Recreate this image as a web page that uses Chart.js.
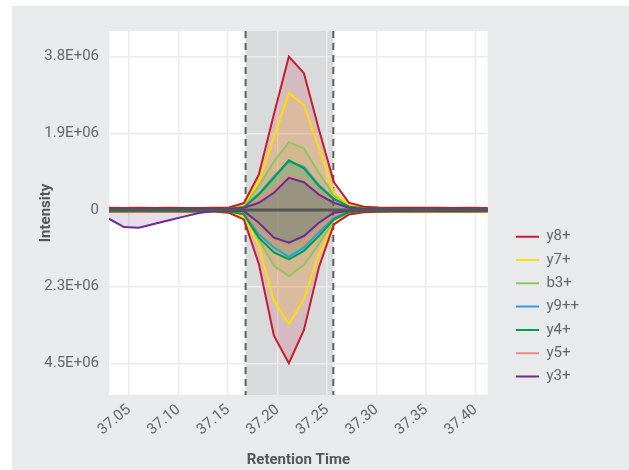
<!DOCTYPE html>
<html>
<head>
<meta charset="utf-8">
<script src="https://cdn.jsdelivr.net/npm/chart.js@4.4.1/dist/chart.umd.min.js"></script>
<style>
  body { margin: 0; background: #fff; }
  canvas { display: block; }
</style>
</head>
<body>
<canvas id="chart" width="629" height="470"></canvas>
<script>
// retention times (min)
var times = [37.0297, 37.0449, 37.0600, 37.0751, 37.0903, 37.1054, 37.1206, 37.1357, 37.1509,
  37.1660, 37.1811, 37.1963, 37.2114, 37.2266, 37.2417, 37.2568, 37.2720, 37.2871, 37.3023,
  37.3174, 37.3325, 37.3477, 37.3628, 37.3780, 37.3931, 37.4082, 37.4234];

var xTickValues = [37.05, 37.10, 37.15, 37.20, 37.25, 37.30, 37.35, 37.40];
var peakStart = 37.1677;
var peakEnd = 37.2563;

var seriesNames = ["y8+", "y7+", "b3+", "y9++", "y4+", "y5+", "y3+"];

// upper (light) traces
var y8Top = [52000, 51000, 53000, 50000, 52000, 51000, 50000, 54000, 62000, 170000, 880000, 2370000, 3800000, 3390000, 2000000, 690000, 180000, 80000, 60000, 55000, 53000, 52000, 54000, 51000, 52000, 50000, 51000];
var y7Top = [42000, 41000, 43000, 42000, 40000, 42000, 41000, 44000, 50000, 140000, 710000, 1800000, 2900000, 2600000, 1540000, 430000, 135000, 65000, 50000, 44000, 42000, 43000, 41000, 42000, 40000, 42000, 41000];
var b3Top = [34000, 35000, 33000, 35000, 34000, 36000, 34000, 35000, 40000, 95000, 590000, 1200000, 1680000, 1520000, 920000, 360000, 120000, 55000, 40000, 36000, 35000, 34000, 35000, 33000, 35000, 34000, 35000];
var y9Top = [25000, 26000, 24000, 25000, 25000, 24000, 26000, 25000, 28000, 70000, 400000, 830000, 1200000, 1070000, 620000, 280000, 90000, 40000, 28000, 26000, 25000, 24000, 25000, 26000, 25000, 24000, 25000];
var y4Top = [24000, 23000, 25000, 24000, 23000, 24000, 25000, 24000, 27000, 65000, 383000, 795000, 1230000, 1030000, 590000, 270000, 86000, 35000, 27000, 25000, 24000, 23000, 24000, 25000, 24000, 23000, 24000];
var y5Top = [30000, 29000, 31000, 30000, 29000, 30000, 31000, 30000, 33000, 55000, 260000, 506000, 835000, 711000, 420000, 175000, 75000, 35000, 31000, 30000, 29000, 30000, 31000, 30000, 29000, 30000, 30000];
var y3Top = [20000, 19000, 21000, 20000, 19000, 20000, 21000, 20000, 22000, 54000, 178000, 425000, 795000, 687000, 380000, 178000, 54000, 25000, 21000, 20000, 19000, 20000, 21000, 20000, 19000, 20000, 20000];

// lower (mirrored) traces
var y8Bot = [45000, 44000, 46000, 45000, 44000, 45000, 46000, 45000, 82000, 278000, 1590000, 3690000, 4500000, 3520000, 1690000, 424000, 132000, 70000, 50000, 46000, 45000, 44000, 45000, 46000, 45000, 44000, 45000];
var y7Bot = [62000, 60000, 61000, 62000, 60000, 61000, 62000, 61000, 75000, 200000, 1060000, 2670000, 3350000, 2620000, 1300000, 424000, 130000, 65000, 62000, 61000, 60000, 62000, 61000, 60000, 62000, 61000, 60000];
var b3Bot = [40000, 41000, 39000, 40000, 41000, 40000, 39000, 40000, 50000, 160000, 860000, 1640000, 1940000, 1620000, 1000000, 307000, 73000, 45000, 41000, 40000, 39000, 40000, 41000, 40000, 39000, 40000, 40000];
var y9Bot = [35000, 34000, 36000, 35000, 34000, 35000, 36000, 35000, 42000, 120000, 717000, 1100000, 1380000, 1100000, 658000, 230000, 60000, 38000, 36000, 35000, 34000, 35000, 36000, 35000, 34000, 35000, 35000];
var y4Bot = [35000, 36000, 34000, 35000, 36000, 35000, 34000, 35000, 44000, 130000, 813000, 1250000, 1450000, 1200000, 766000, 278000, 65000, 38000, 35000, 36000, 35000, 34000, 35000, 36000, 35000, 34000, 35000];
var y5Bot = [30000, 31000, 29000, 30000, 31000, 30000, 29000, 30000, 36000, 100000, 570000, 960000, 1100000, 950000, 512000, 180000, 50000, 32000, 30000, 31000, 30000, 29000, 30000, 31000, 30000, 29000, 30000];
var y3Bot = [257000, 503000, 520000, 412000, 304000, 196000, 88000, 29000, 20000, 35000, 374000, 813000, 960000, 766000, 374000, 82000, 30000, 22000, 20000, 21000, 20000, 19000, 20000, 21000, 20000, 19000, 20000];

var topSets = [y8Top, y7Top, b3Top, y9Top, y4Top, y5Top, y3Top];
var botSets = [y8Bot, y7Bot, b3Bot, y9Bot, y4Bot, y5Bot, y3Bot];
var colors = ["#c41e2e", "#ffdd00", "#92c45a", "#3a9ad9", "#009e4f", "#f08a7a", "#6b2d90"];
// lower number is painted later (on top)
var stacking = [2, 3, 4, 5, 1, 6, 0];

function rgba(hex, a) {
  var n = parseInt(hex.slice(1), 16);
  return "rgba(" + (n >> 16) + "," + ((n >> 8) & 255) + "," + (n & 255) + "," + a + ")";
}

// top and bottom halves each scaled to their own max
var topMax = Math.max.apply(null, topSets.map(function (s) { return Math.max.apply(null, s); }));
var botMax = Math.max.apply(null, botSets.map(function (s) { return Math.max.apply(null, s); }));
var ratio = topMax / botMax;

var datasets = [];
seriesNames.forEach(function (name, i) {
  datasets.push({
    label: name,
    order: stacking[i],
    data: times.map(function (t, j) { return { x: t, y: topSets[i][j] }; }),
    borderColor: colors[i],
    backgroundColor: rgba(colors[i], 0.17),
    borderWidth: 2,
    fill: "origin",
    pointRadius: 0,
    tension: 0
  });
});
seriesNames.forEach(function (name, i) {
  datasets.push({
    label: name,
    mirror: true,
    order: stacking[i],
    data: times.map(function (t, j) { return { x: t, y: -botSets[i][j] * ratio }; }),
    borderColor: colors[i],
    backgroundColor: rgba(colors[i], 0.17),
    borderWidth: 2,
    fill: "origin",
    pointRadius: 0,
    tension: 0
  });
});

function sci(v) {
  if (v === 0) return "0";
  var s = v.toExponential(1).split("e");
  var e = parseInt(s[1], 10);
  return s[0] + "E" + (e < 0 ? "-" : "+") + (Math.abs(e) < 10 ? "0" : "") + Math.abs(e);
}

var backdrop = {
  id: "backdrop",
  beforeDraw: function (chart) {
    var ctx = chart.ctx, a = chart.chartArea, x = chart.scales.x;
    ctx.save();
    ctx.fillStyle = "#ffffff";
    ctx.fillRect(0, 0, chart.width, chart.height);
    ctx.fillStyle = "#e9eaec";
    ctx.fillRect(12, 6, chart.width - 12, chart.height - 6);
    ctx.fillStyle = "#ffffff";
    ctx.fillRect(a.left, a.top, a.right - a.left, a.bottom - a.top);
    var x0 = x.getPixelForValue(peakStart), x1 = x.getPixelForValue(peakEnd);
    ctx.fillStyle = "#d9dadc";
    ctx.fillRect(x0, a.top, x1 - x0, a.bottom - a.top);
    ctx.restore();
  },
  beforeDatasetsDraw: function (chart) {
    var ctx = chart.ctx, a = chart.chartArea, x = chart.scales.x;
    ctx.save();
    ctx.strokeStyle = "#5f5f5f";
    ctx.lineWidth = 2;
    ctx.setLineDash([7, 5]);
    [peakStart, peakEnd].forEach(function (t) {
      var px = x.getPixelForValue(t);
      ctx.beginPath();
      ctx.moveTo(px, a.top);
      ctx.lineTo(px, a.bottom);
      ctx.stroke();
    });
    ctx.restore();
  },
  afterDatasetsDraw: function (chart) {
    var ctx = chart.ctx, a = chart.chartArea, y = chart.scales.y;
    var py = y.getPixelForValue(0);
    ctx.save();
    ctx.strokeStyle = "#555555";
    ctx.lineWidth = 3;
    ctx.beginPath();
    ctx.moveTo(a.left, py);
    ctx.lineTo(a.right, py);
    ctx.stroke();
    ctx.restore();
  }
};

Chart.defaults.font.family = "Roboto";

var myChart = new Chart(document.getElementById("chart"), {
  type: "line",
  data: { datasets: datasets },
  plugins: [backdrop],
  options: {
    responsive: false,
    animation: false,
    layout: { padding: { left: 14, top: 31, right: 40, bottom: 0 } },
    plugins: {
      tooltip: { enabled: false },
      filler: { drawTime: "beforeDatasetsDraw" },
      legend: {
        position: "right",
        align: "start",
        fullSize: false,
        // empty title only pushes the entries down
        title: { display: true, text: "", font: { size: 12 }, padding: { top: 175.5, bottom: 0 } },
        labels: {
          usePointStyle: true,
          pointStyle: "line",
          pointStyleWidth: 23,
          padding: 8.3,
          color: "#666",
          font: { size: 15 },
          sort: function (a, b) { return a.datasetIndex - b.datasetIndex; },
          filter: function (item, data) { return !data.datasets[item.datasetIndex].mirror; }
        }
      }
    },
    scales: {
      x: {
        type: "linear",
        min: 37.0298,
        max: 37.4121,
        border: { display: false },
        grid: { color: "#ebebeb", lineWidth: 1.5, drawTicks: false },
        afterBuildTicks: function (s) { s.ticks = xTickValues.map(function (v) { return { value: v }; }); },
        afterFit: function (s) { s.height = 75; },
        ticks: {
          minRotation: 40, maxRotation: 40, padding: 6,
          color: "#666", font: { size: 15 },
          callback: function (v) { return v.toFixed(2); }
        },
        title: {
          display: true, text: "Retention Time", color: "#555",
          font: { size: 15, weight: "bold" }, padding: { top: 0, bottom: 1 }
        }
      },
      y: {
        min: -1.207 * topMax,
        max: 1.167 * topMax,
        border: { display: false },
        grid: { color: "#ebebeb", lineWidth: 1.5, drawTicks: false },
        afterBuildTicks: function (s) {
          s.ticks = [-1, -0.5, 0, 0.5, 1].map(function (f) { return { value: f * topMax }; });
        },
        afterFit: function (s) { s.width = 95; },
        ticks: {
          padding: 10, color: "#666", font: { size: 15 },
          callback: function (v) {
            var f = Math.round(v / topMax * 2) / 2;
            if (f === 0) return "0";
            return f > 0 ? sci(f * topMax) : sci(-f * botMax);
          }
        },
        title: {
          display: true, text: "Intensity", color: "#555",
          font: { size: 15, weight: "bold" }, padding: { top: 23, bottom: 0 }
        }
      },
      gap: {
        type: "linear",
        position: "right",
        display: true,
        grid: { display: false },
        border: { display: false },
        ticks: { display: false },
        afterFit: function (s) { s.width = 20; }
      }
    }
  }
});
</script>
</body>
</html>
